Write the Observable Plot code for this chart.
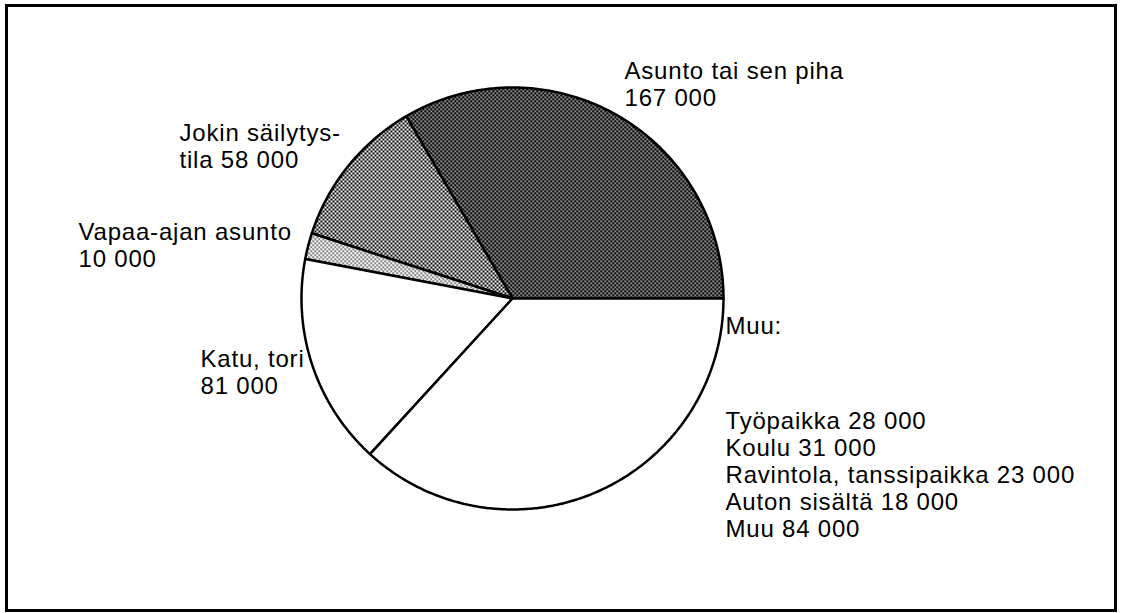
<!DOCTYPE html>
<html>
<head>
<meta charset="utf-8">
<script src="https://cdn.jsdelivr.net/npm/d3@7"></script>
<script src="https://cdn.jsdelivr.net/npm/@observablehq/plot@0.6"></script>
<style>
  html, body { margin: 0; padding: 0; background: #fff; }
  #chart svg { display: block; }
  #chart svg text { letter-spacing: 0.8px; }
</style>
</head>
<body>
<div id="chart"></div>
<script>
// ---- Data ----
const categories = ["Asunto tai sen piha", "Jokin säilytystila", "Vapaa-ajan asunto", "Katu, tori", "Muu"];
const otherItems = ["Työpaikka", "Koulu", "Ravintola, tanssipaikka", "Auton sisältä", "Muu"];
const otherValues = [28000, 31000, 23000, 18000, 84000];
const mainValues = [167000, 58000, 10000, 81000, d3.sum(otherValues)];

// ---- Layout / style (not data) ----
const W = 1122, H = 613;
const CX = 512, CY = 298, R = 211;
const FONT = 24, LINE = 27;
const fills = ["url(#patDark)", "url(#patMid)", "url(#patLight)", "white", "white"];
const fmt = v => d3.format(",")(v).replace(/,/g, " ");

// label placement in pixels (left x, baseline of last line)
const labelLayout = [
  {px: 624, py: 105},
  {px: 179, py: 167},
  {px: 78,  py: 266},
  {px: 200, py: 393},
  {px: 725, py: 333}
];
const labelLines = [
  [categories[0], fmt(mainValues[0])],
  ["Jokin säilytys-", "tila " + fmt(mainValues[1])],
  [categories[2], fmt(mainValues[2])],
  [categories[3], fmt(mainValues[3])],
  ["Muu:"]
];
const toX = px => (px - CX) / R;
const toY = py => (CY - py) / R;

const labels = labelLayout.map((l, i) => ({x: toX(l.px), y: toY(l.py), text: labelLines[i].join("\n")}));
labels.push({x: toX(725), y: toY(536), text: otherItems.map((n, i) => n + " " + fmt(otherValues[i])).join("\n")});

// ---- Pie geometry from the values ----
const arcs = d3.pie().sort(null).startAngle(0).endAngle(2 * Math.PI)(mainValues);
const slices = arcs.map((a, i) => {
  const pts = [{x: 0, y: 0}];
  const n = Math.max(2, Math.ceil((a.endAngle - a.startAngle) / (Math.PI / 360)));
  for (let k = 0; k <= n; k++) {
    const t = a.startAngle + (a.endAngle - a.startAngle) * k / n;
    pts.push({x: Math.cos(t), y: Math.sin(t)});
  }
  return pts;
});

const svg = Plot.plot({
  width: W,
  height: H,
  margin: 0,
  style: {fontFamily: "'Liberation Sans', Arial, Helvetica, sans-serif", background: "white"},
  x: {domain: [toX(0), toX(W)], axis: null},
  y: {domain: [toY(H), toY(0)], axis: null},
  marks: [
    Plot.frame({stroke: "black", strokeWidth: 3, insetLeft: 6, insetTop: 5, insetRight: 7, insetBottom: 3}),
    ...slices.map((pts, i) => Plot.line(pts, {
      x: "x", y: "y", curve: "linear-closed",
      fill: fills[i], stroke: "black", strokeWidth: 2.5, strokeLinejoin: "round"
    })),
    Plot.text(labels, {
      x: "x", y: "y", text: "text",
      textAnchor: "start", lineAnchor: "bottom",
      fontSize: FONT, lineHeight: LINE / FONT, fill: "black"
    })
  ]
});

// SVG patterns for the dotted screens
const defs = d3.select(svg).insert("defs", ":first-child");
function pattern(id, size, bg, fg, cells) {
  const p = defs.append("pattern").attr("id", id).attr("patternUnits", "userSpaceOnUse")
    .attr("width", size).attr("height", size);
  p.append("rect").attr("width", size).attr("height", size).attr("fill", bg);
  cells.forEach(c => p.append("rect").attr("x", c[0]).attr("y", c[1]).attr("width", c[2]).attr("height", c[2]).attr("fill", fg));
}
pattern("patDark", 4, "#000", "#fff", [[0, 0, 1.5], [2, 2, 1.5]]);
pattern("patMid", 4, "#fff", "#000", [[0, 0, 2], [2, 2, 2]]);
pattern("patLight", 4, "#fff", "#000", [[0, 0, 1.4], [2, 2, 1.4]]);

document.getElementById("chart").appendChild(svg);
</script>
</body>
</html>
